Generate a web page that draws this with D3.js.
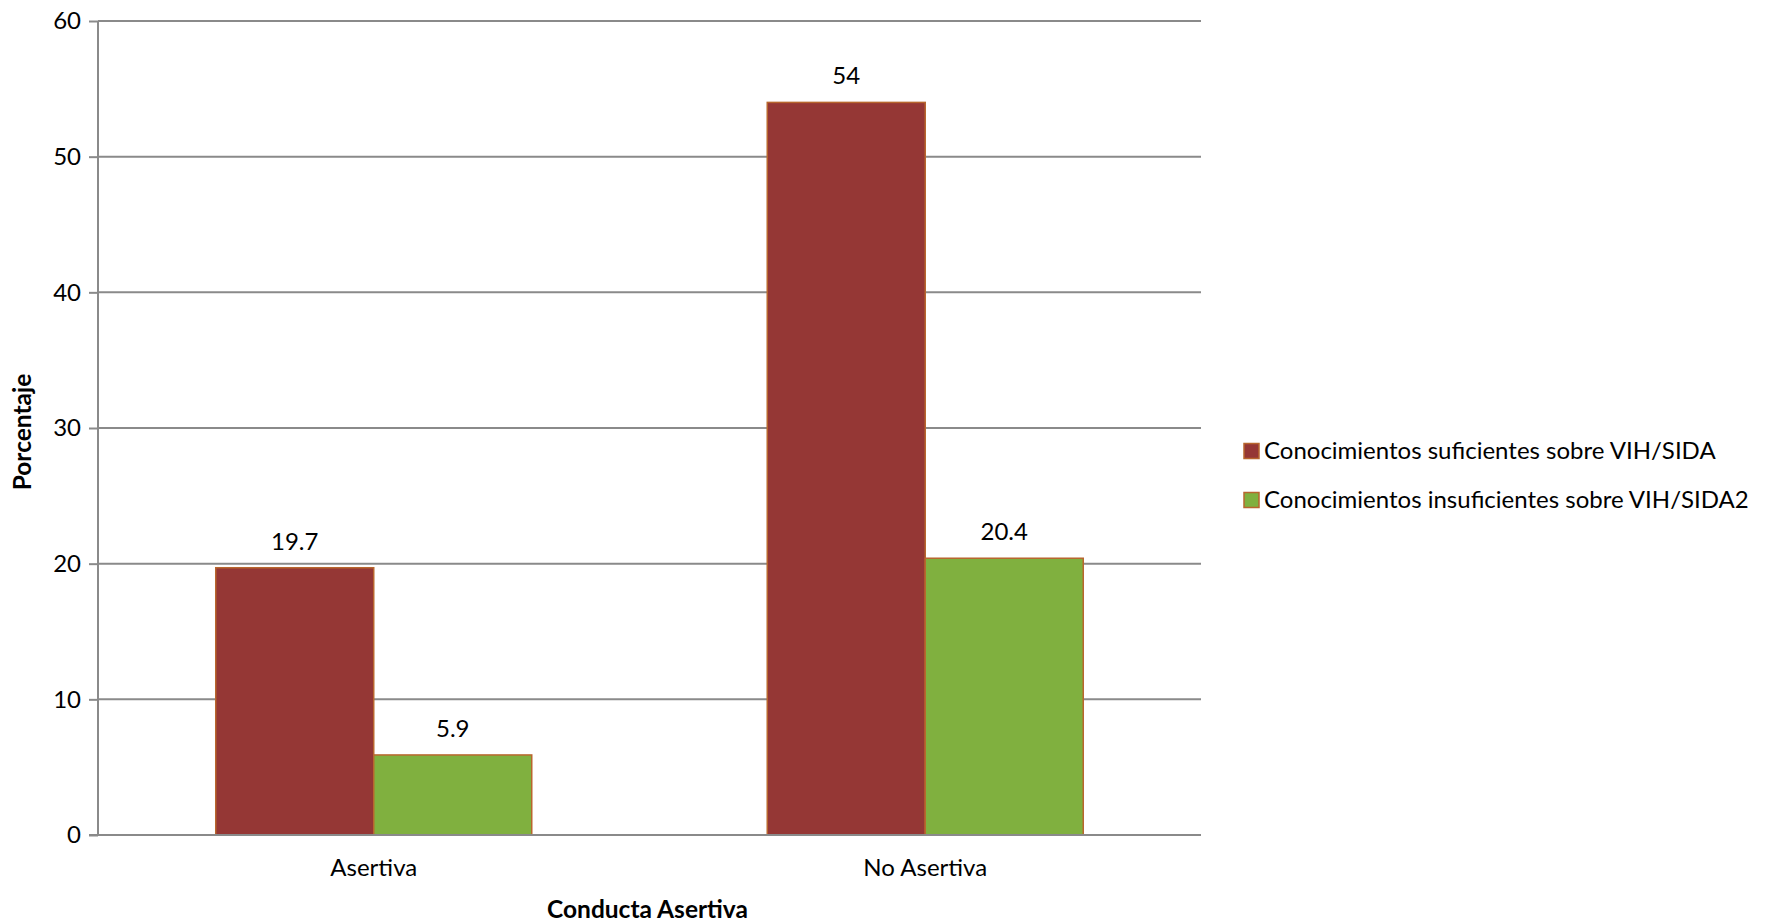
<!DOCTYPE html>
<html>
<head>
<meta charset="utf-8">
<script src="https://cdn.jsdelivr.net/npm/d3@7"></script>
<style>
  html, body { margin: 0; padding: 0; background: #fff; }
  svg text { font-family: Lato, "Open Sans", sans-serif; fill: #000; }
</style>
</head>
<body>
<svg id="chart" width="1775" height="924"></svg>
<script>
// Categories on the x axis
const categories = ["Asertiva", "No Asertiva"];
// Series names (legend)
const seriesNames = [
  "Conocimientos suficientes sobre VIH/SIDA",
  "Conocimientos insuficientes sobre VIH/SIDA2"
];
// Percentages per series, in category order
const suficientes = [19.7, 54];
const insuficientes = [5.9, 20.4];
const yTicks = [0, 10, 20, 30, 40, 50, 60];

const seriesValues = [suficientes, insuficientes];
const seriesColors = ["#953735", "#80B03F"];
const barStroke = "#B8662E";
const fontSize = "24px";

const svg = d3.select("#chart");
const margin = { left: 98, right: 574, top: 21, bottom: 89 };
const W = 1775, H = 924;
const plotW = W - margin.left - margin.right;
const plotH = H - margin.top - margin.bottom;

const g = svg.append("g").attr("transform", `translate(${margin.left},${margin.top})`);

const x0 = d3.scaleBand().domain(categories).range([0, plotW])
  .paddingInner(0.427).paddingOuter(0.2135);
const x1 = d3.scaleBand().domain(d3.range(seriesNames.length)).range([0, x0.bandwidth()]);
const y = d3.scaleLinear().domain([0, 60]).range([plotH, 0]);

// Horizontal gridlines
g.append("g").selectAll("line").data(yTicks.filter(t => t > 0)).join("line")
  .attr("x1", 0).attr("x2", plotW)
  .attr("y1", d => y(d)).attr("y2", d => y(d))
  .attr("stroke", "#8a8a8a").attr("stroke-width", 2);

// Y axis
const yAxis = g.append("g").call(d3.axisLeft(y).tickValues(yTicks).tickSize(9).tickPadding(8).tickFormat(d3.format("d")));
yAxis.select(".domain").attr("stroke", "#8a8a8a").attr("stroke-width", 2).attr("d", `M0,${plotH}V0`);
yAxis.selectAll(".tick line").attr("stroke", "#8a8a8a").attr("stroke-width", 2);
yAxis.selectAll(".tick text").style("font-size", fontSize).style("font-family", "Lato, sans-serif").attr("fill", "#000");

// Bars
const groups = g.append("g").selectAll("g").data(categories).join("g")
  .attr("transform", d => `translate(${x0(d)},0)`);
groups.selectAll("rect").data((c, ci) => seriesValues.map((vals, si) => ({ si, v: vals[ci] }))).join("rect")
  .attr("x", d => x1(d.si))
  .attr("y", d => y(d.v))
  .attr("width", x1.bandwidth())
  .attr("height", d => plotH - y(d.v))
  .attr("fill", d => seriesColors[d.si])
  .attr("stroke", barStroke).attr("stroke-width", 1.5);

// Value labels
groups.selectAll("text").data((c, ci) => seriesValues.map((vals, si) => ({ si, v: vals[ci] }))).join("text")
  .attr("x", d => x1(d.si) + x1.bandwidth() / 2)
  .attr("y", d => y(d.v) - 18)
  .attr("text-anchor", "middle")
  .style("font-size", fontSize)
  .text(d => d.v);

// X axis
const xAxis = g.append("g").attr("transform", `translate(0,${plotH})`)
  .call(d3.axisBottom(x0).tickSize(0).tickPadding(24));
xAxis.select(".domain").attr("stroke", "#8a8a8a").attr("stroke-width", 2).attr("d", `M-9,0H${plotW}`);
xAxis.selectAll(".tick text").style("font-size", fontSize).style("font-family", "Lato, sans-serif").attr("fill", "#000");

// Axis titles
svg.append("text").attr("x", margin.left + plotW / 2 - 2).attr("y", 918)
  .attr("text-anchor", "middle").style("font-size", "24.5px").style("font-weight", "bold")
  .text("Conducta Asertiva");
svg.append("text").attr("transform", `translate(31,432) rotate(-90)`)
  .attr("text-anchor", "middle").style("font-size", "24.5px").style("font-weight", "bold")
  .text("Porcentaje");

// Legend
const legend = svg.append("g").selectAll("g").data(seriesNames).join("g")
  .attr("transform", (d, i) => `translate(1244,${451 + i * 49})`);
legend.append("rect").attr("x", 0).attr("y", -7.5).attr("width", 15).attr("height", 15)
  .attr("fill", (d, i) => seriesColors[i]).attr("stroke", barStroke).attr("stroke-width", 1.5);
legend.append("text").attr("x", 20).attr("y", 0).attr("dy", "0.35em")
  .style("font-size", fontSize).text(d => d);
</script>
</body>
</html>
